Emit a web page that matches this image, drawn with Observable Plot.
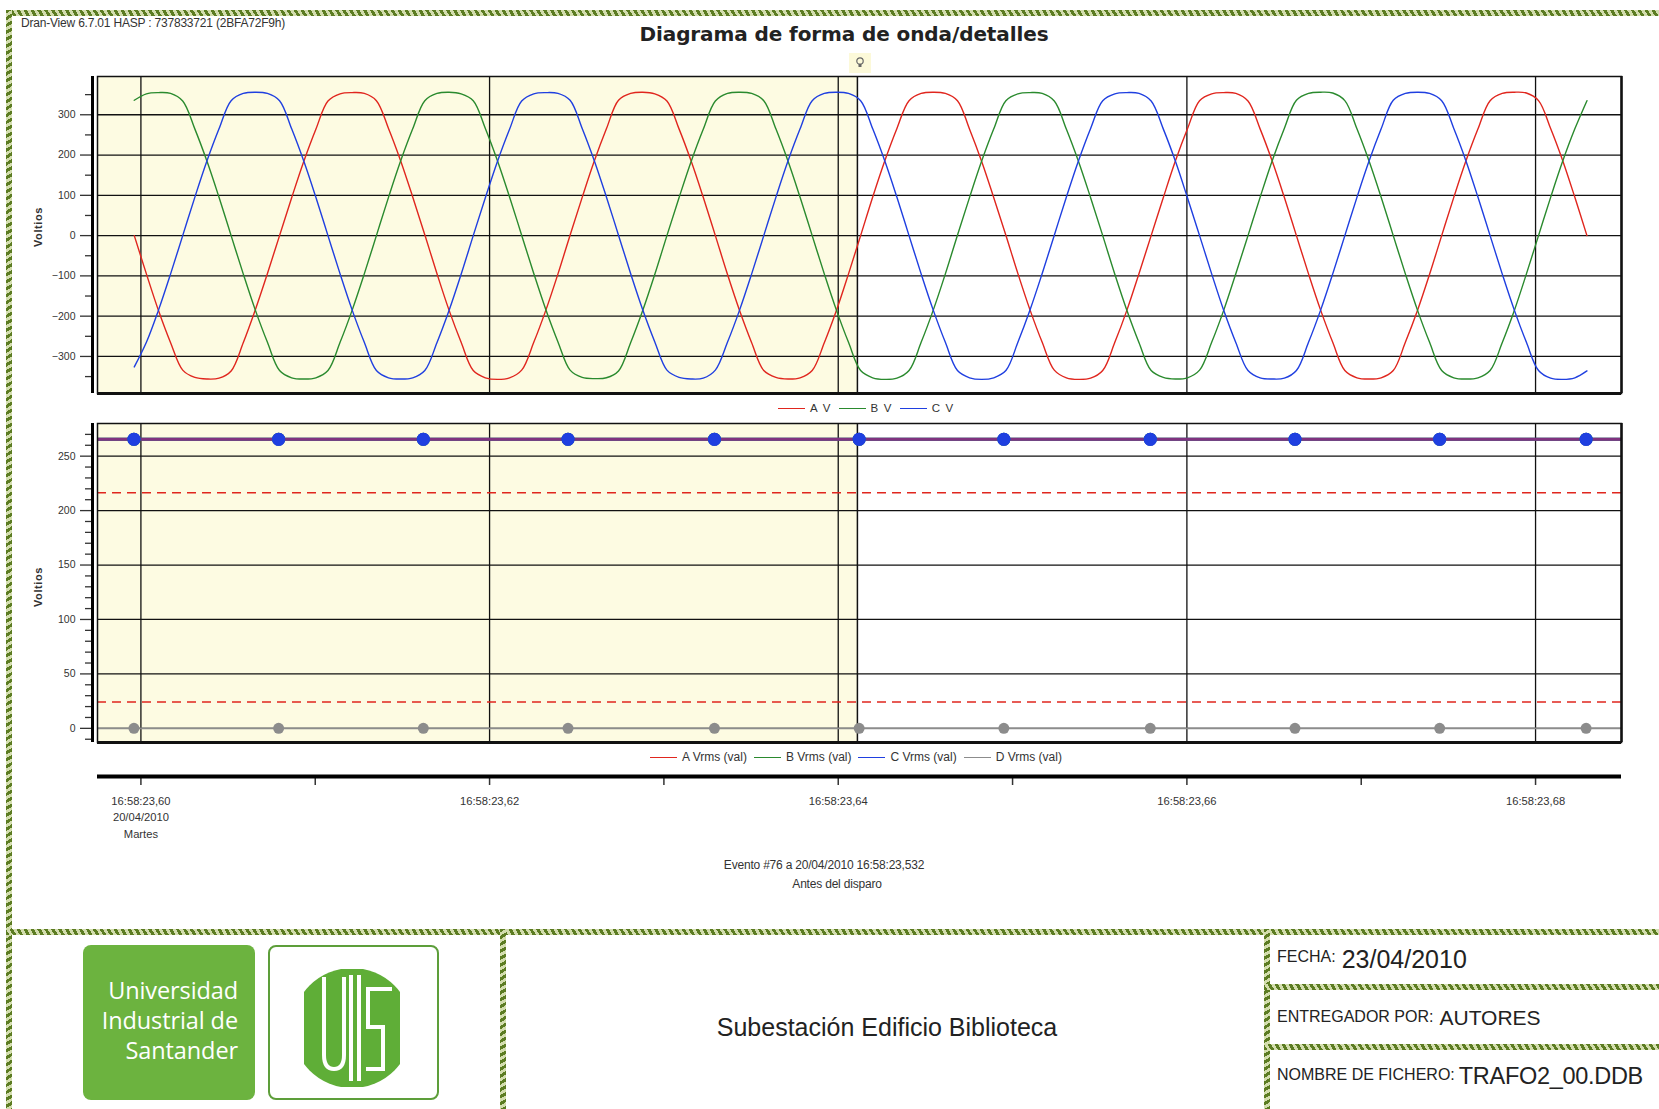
<!DOCTYPE html>
<html>
<head>
<meta charset="utf-8">
<script src="https://cdn.jsdelivr.net/npm/d3@7"></script>
<script src="https://cdn.jsdelivr.net/npm/@observablehq/plot@0.6"></script>
<style>
html,body{margin:0;padding:0;background:#fff;}
#page{position:relative;width:1659px;height:1109px;overflow:hidden;background:#fff;color:#222;font-family:"Liberation Sans",Arial,sans-serif;}
.abs{position:absolute;}
.hh{position:absolute;height:6px;background:repeating-linear-gradient(60deg,#5c7c22 0 3px,#d3ddae 3px 6px);}
.hv{position:absolute;width:6px;background:repeating-linear-gradient(150deg,#5c7c22 0 3px,#d3ddae 3px 6px);}
.legend{position:absolute;display:flex;align-items:center;color:#333;white-space:nowrap;}
.legend .sw{display:inline-block;width:27px;height:0;border-top:1.6px solid;margin:0 5px 0 0;}
.legend .lb{margin-right:7px;}
.vlab{position:absolute;font-size:11px;font-weight:bold;color:#333;transform:translate(-50%,-50%) rotate(-90deg);letter-spacing:0.6px;}
.row{position:absolute;display:flex;align-items:flex-start;white-space:nowrap;color:#222;}
.row .sm{font-size:16px;line-height:1;margin-top:2px;margin-right:6px;}
</style>
</head>
<body>
<div id="page">
  <!-- decorative report frame -->
  <div class="hh" style="left:6px;top:10px;width:1660px;"></div>
  <div class="hv" style="left:6px;top:10px;height:1100px;"></div>
  <div class="hh" style="left:6px;top:929px;width:1660px;"></div>
  <div class="hv" style="left:500px;top:929px;height:185px;"></div>
  <div class="hv" style="left:1264px;top:929px;height:185px;"></div>
  <div class="hh" style="left:1264px;top:984px;width:400px;"></div>
  <div class="hh" style="left:1264px;top:1044px;width:400px;"></div>

  <div class="abs" style="left:21px;top:16px;font-size:12px;color:#333;letter-spacing:-0.2px;">Dran-View 6.7.01 HASP : 737833721 (2BFA72F9h)</div>
  <div class="abs" style="left:844px;top:22px;transform:translateX(-50%);font-family:'DejaVu Sans',Verdana,sans-serif;font-weight:bold;font-size:20px;color:#222;white-space:nowrap;letter-spacing:-0.1px;">Diagrama de forma de onda/detalles</div>
  <svg class="abs" style="left:849px;top:53px;" width="22" height="20" viewBox="0 0 22 20">
    <rect x="0" y="0" width="22" height="20" fill="#fbf8d0" opacity="0.8"/>
    <circle cx="11" cy="8" r="3.2" fill="none" stroke="#666" stroke-width="1.2"/>
    <rect x="9.5" y="11" width="3" height="3" fill="#666"/>
  </svg>

  <div id="topChart" class="abs" style="left:0;top:56px;"></div>
  <div class="vlab" style="left:38px;top:227px;">Voltios</div>
  <div id="legendTop" class="legend" style="left:778px;top:402px;letter-spacing:1.2px;font-size:11.5px;"></div>

  <div id="bottomChart" class="abs" style="left:0;top:410px;"></div>
  <div class="vlab" style="left:38px;top:587px;">Voltios</div>
  <div id="legendBottom" class="legend" style="left:650px;top:750px;font-size:12px;"></div>

  <div id="xAxis" class="abs" style="left:0;top:770px;"></div>

  <div class="abs" style="left:824px;top:858px;transform:translateX(-50%);font-size:12px;color:#333;white-space:nowrap;letter-spacing:-0.2px;">Evento #76 a 20/04/2010 16:58:23,532</div>
  <div class="abs" style="left:837px;top:877px;transform:translateX(-50%);font-size:12px;color:#333;white-space:nowrap;letter-spacing:-0.2px;">Antes del disparo</div>

  <!-- footer -->
  <div class="abs" style="left:83px;top:945px;width:172px;height:155px;background:#6cb33f;border-radius:8px;"></div>
  <div class="abs" style="left:83px;top:975px;width:155px;text-align:right;color:#fff;font-family:'Open Sans',Lato,sans-serif;font-size:23.5px;line-height:30px;letter-spacing:-0.1px;">Universidad<br>Industrial de<br>Santander</div>
  <div class="abs" style="left:268px;top:945px;width:167px;height:151px;border:2px solid #5d9e3a;border-radius:8px;background:#fff;"></div>
  <svg class="abs" style="left:304px;top:969px;" width="96" height="118" viewBox="0 0 96 118">
    <defs><clipPath id="emb"><rect x="0" y="0" width="96" height="118"/></clipPath></defs>
    <g clip-path="url(#emb)">
      <circle cx="48" cy="59" r="60" fill="#5fae37"/>
      <path d="M20 8 V86 Q20 100 30 100 Q40 100 40 86 V8" fill="none" stroke="#fff" stroke-width="4"/>
      <line x1="47" y1="6" x2="47" y2="112" stroke="#fff" stroke-width="4"/>
      <line x1="55" y1="6" x2="55" y2="112" stroke="#fff" stroke-width="4"/>
      <path d="M88 20 H64 V58 H79 V100 H62" fill="none" stroke="#fff" stroke-width="4"/>
    </g>
  </svg>
  <div class="abs" style="left:887px;top:1013px;transform:translateX(-50%);font-size:25px;color:#222;white-space:nowrap;">Subestación Edificio Biblioteca</div>

  <div class="row" style="left:1277px;top:947px;"><span class="sm">FECHA:</span><span style="font-size:25px;line-height:1;">23/04/2010</span></div>
  <div class="row" style="left:1277px;top:1007px;"><span class="sm">ENTREGADOR POR:</span><span style="font-size:21px;line-height:1;">AUTORES</span></div>
  <div class="row" style="left:1277px;top:1065px;"><span class="sm" style="margin-right:4px;">NOMBRE DE FICHERO:</span><span style="font-size:23.5px;line-height:1;letter-spacing:-0.3px;">TRAFO2_00.DDB</span></div>
</div>

<script>
// ---------------- DATA ----------------
// time axis in milliseconds after 16:58:23,600
const timeTickMs = [0, 20, 40, 60, 80];
const timeTickLabels = ["16:58:23,60\n20/04/2010\nMartes", "16:58:23,62", "16:58:23,64", "16:58:23,66", "16:58:23,68"];
const timeMinorTickMs = [10, 30, 50, 70];
const triggerMs = 41.1;
const xDomainMs = [-2.49, 84.93];

// Waveforms (V), sampled every 1/24 cycle starting at -0.38 ms
const sampleStartMs = -0.38;
const sampleStepMs = 0.6944;
const phaseNames = ["A V", "B V", "C V"];
const waveA = [
  0,-95,-186,-266,-334,-352,-356,-354,-336,-266,-184,-94, 0,94,184,264,334,352,355,353,335,266,186,96,
  2,-94,-185,-265,-335,-353,-357,-353,-334,-265,-185,-95, 1,95,185,265,336,353,356,352,334,265,185,95,
  0,-96,-186,-266,-335,-352,-356,-353,-335,-266,-186,-95, 0,96,186,266,335,353,356,353,335,264,184,94,
  1,-95,-185,-265,-334,-353,-357,-354,-335,-265,-185,-94, 0,94,185,265,335,352,355,353,334,265,185,95,
  0,-95,-185,-265,-335,-353,-356,-353,-335,-265,-186,-96, 0,95,185,265,335,353,356,354,335,266,186,95,
  0];
const waveB = [
  336,352,355,353,334,265,185,95, 0,-95,-185,-265,-335,-353,-356,-353,-335,-265,-185,-95, 0,95,185,265,
  335,353,356,352,335,266,186,96, 1,-94,-184,-264,-334,-352,-355,-353,-336,-266,-186,-96, 0,94,184,264,
  334,353,356,353,335,265,185,95, 0,-95,-185,-265,-335,-353,-357,-354,-335,-265,-185,-95, 1,95,185,265,
  335,352,355,353,334,264,184,94, 0,-96,-186,-266,-335,-352,-356,-353,-334,-265,-185,-94, 0,95,186,266,
  336,353,356,354,335,265,185,95, 0,-95,-185,-265,-335,-353,-356,-353,-335,-266,-186,-95, 0,95,185,265,
  335];
const waveC = [
  -326,-265,-185,-95, 0,95,185,265,335,353,356,353,335,265,185,95, 0,-95,-185,-265,-335,-353,-356,-353,
  -335,-266,-186,-96, 0,94,184,264,334,352,355,353,336,266,186,96, 1,-94,-184,-264,-334,-352,-356,-354,
  -334,-265,-185,-95, 0,95,185,265,335,353,356,353,335,265,185,95, 0,-95,-185,-265,-335,-353,-357,-353,
  -335,-264,-184,-94, 1,96,186,266,335,352,355,353,334,265,185,94, 0,-95,-186,-266,-335,-353,-356,-354,
  -335,-265,-185,-95, 0,95,185,265,336,353,356,353,335,266,186,95, 0,-95,-185,-265,-335,-354,-357,-353,
  -336];
const waveTicksMajor = [-300, -200, -100, 0, 100, 200, 300];
const waveTicksMinor = [-350, -250, -150, -50, 50, 150, 250, 350];
const waveYDomain = [-392, 395];

// RMS values (V), one per half cycle
const rmsNames = ["A Vrms (val)", "B Vrms (val)", "C Vrms (val)", "D Vrms (val)"];
const rmsTimesMs = [-0.4, 7.9, 16.2, 24.5, 32.9, 41.2, 49.5, 57.9, 66.2, 74.5, 82.9];
const rmsA = [265.6, 265.5, 265.6, 265.5, 265.5, 265.6, 265.5, 265.5, 265.6, 265.5, 265.5];
const rmsB = [265.5, 265.6, 265.5, 265.5, 265.6, 265.5, 265.5, 265.6, 265.5, 265.5, 265.6];
const rmsC = [265.5, 265.5, 265.5, 265.6, 265.5, 265.5, 265.6, 265.5, 265.5, 265.6, 265.5];
const rmsD = [0, 0, 0, 0, 0, 0, 0, 0, 0, 0, 0];
const rmsLimits = [216.5, 24.2];
const rmsTicksMajor = [0, 50, 100, 150, 200, 250];
const rmsTicksMinor = [-10, 10, 20, 30, 40, 60, 70, 80, 90, 110, 120, 130, 140, 160, 170, 180, 190, 210, 220, 230, 240, 260, 270];
const rmsYDomain = [-13, 280];

// ---------------- STYLE ----------------
const phaseColors = ["#e0261e", "#2a8a2e", "#1f3fe0"];
const rmsColors = ["#e0261e", "#2a8a2e", "#1f3fe0", "#8c8c8c"];
const shade = "#fdfbe2";
const baseStyle = {fontFamily: "'Liberation Sans', Arial, sans-serif", fontSize: "10px", background: "transparent", overflow: "visible", color: "#333"};

function sampleTime(d, i) { return sampleStartMs + i * sampleStepMs; }

function gridMarks(yDomain, yMajor) {
  return [
    Plot.rect([triggerMs], {x1: () => xDomainMs[0], x2: d => d, y1: () => yDomain[0], y2: () => yDomain[1], fill: shade}),
    Plot.ruleY(yMajor, {stroke: "#111", strokeWidth: 1.3}),
    Plot.ruleX(timeTickMs, {stroke: "#111", strokeWidth: 1.3}),
    Plot.ruleX([triggerMs], {stroke: "#111", strokeWidth: 1.5})
  ];
}
function axisMarks(yMajor, yMinor, yDomain) {
  return [
    Plot.axisY(yMinor, {anchor: "left", tickSize: 7, dx: -5, tickFormat: () => "", strokeWidth: 1.3}),
    Plot.axisY(yMajor, {anchor: "left", tickSize: 12, dx: -5, tickPadding: 5, fontSize: 10.5, strokeWidth: 1.3, fill: "#333"}),
    Plot.ruleX([xDomainMs[0]], {dx: -5, stroke: "#000", strokeWidth: 3}),
    Plot.frame({stroke: "#111", strokeWidth: 1.5}),
    Plot.ruleY([yDomain[0]], {stroke: "#111", strokeWidth: 3}),
    Plot.ruleX([xDomainMs[1]], {stroke: "#111", strokeWidth: 2.5})
  ];
}

const waves = [waveA, waveB, waveC];
const topPlot = Plot.plot({
  width: 1659, height: 346,
  marginTop: 20, marginBottom: 9, marginLeft: 97, marginRight: 38,
  style: baseStyle,
  x: {domain: xDomainMs, axis: null},
  y: {domain: waveYDomain, axis: null},
  marks: [
    ...gridMarks(waveYDomain, waveTicksMajor),
    ...waves.map((w, k) => Plot.lineY(w, {x: sampleTime, y: d => d, stroke: phaseColors[k], strokeWidth: 1.4, curve: "catmull-rom"})),
    ...axisMarks(waveTicksMajor, waveTicksMinor, waveYDomain)
  ]
});
document.getElementById("topChart").appendChild(topPlot);

const rmsSeries = [rmsA, rmsB, rmsC, rmsD];
const rmsLineOrder = [1, 2, 0, 3];
const bottomPlot = Plot.plot({
  width: 1659, height: 340,
  marginTop: 13, marginBottom: 8, marginLeft: 97, marginRight: 38,
  style: baseStyle,
  x: {domain: xDomainMs, axis: null},
  y: {domain: rmsYDomain, axis: null},
  marks: [
    ...gridMarks(rmsYDomain, rmsTicksMajor),
    Plot.ruleY(rmsLimits, {stroke: "#e0261e", strokeWidth: 1.5, strokeDasharray: "9,6"}),
    ...rmsLineOrder.map(k => Plot.ruleY([d3.mean(rmsSeries[k])], {stroke: rmsColors[k], strokeWidth: k === 3 ? 1.6 : 3, strokeOpacity: k === 0 ? 0.5 : 1})),
    ...rmsLineOrder.map(k => Plot.dot(rmsSeries[k], {x: (d, i) => rmsTimesMs[i], y: d => d, r: k === 3 ? 5.5 : 6.5, fill: rmsColors[k === 0 ? 2 : k], stroke: "none"})),
    ...axisMarks(rmsTicksMajor, rmsTicksMinor, rmsYDomain)
  ]
});
document.getElementById("bottomChart").appendChild(bottomPlot);

const allTicks = timeTickMs.concat(timeMinorTickMs).sort((a, b) => a - b);
const axisPlot = Plot.plot({
  width: 1659, height: 100,
  marginTop: 2, marginBottom: 94, marginLeft: 97, marginRight: 38,
  style: Object.assign({}, baseStyle, {fontSize: "11px"}),
  x: {domain: xDomainMs, axis: null},
  y: {domain: [0, 1], axis: null},
  marks: [
    Plot.axisX(allTicks, {anchor: "bottom", tickSize: 9, tickPadding: 8, strokeWidth: 1.5, fontSize: 11.2, lineHeight: 1.45, fill: "#333",
      tickFormat: d => { const j = timeTickMs.indexOf(d); return j >= 0 ? timeTickLabels[j] : ""; }}),
    Plot.ruleY([0], {stroke: "#000", strokeWidth: 4})
  ]
});
document.getElementById("xAxis").appendChild(axisPlot);

// legends
function legend(el, names, colors) {
  names.forEach((n, i) => {
    const s = document.createElement("span"); s.className = "sw"; s.style.borderTopColor = colors[i];
    const l = document.createElement("span"); l.className = "lb"; l.textContent = n;
    el.appendChild(s); el.appendChild(l);
  });
}
legend(document.getElementById("legendTop"), phaseNames, phaseColors);
legend(document.getElementById("legendBottom"), rmsNames, rmsColors);
</script>
</body>
</html>
